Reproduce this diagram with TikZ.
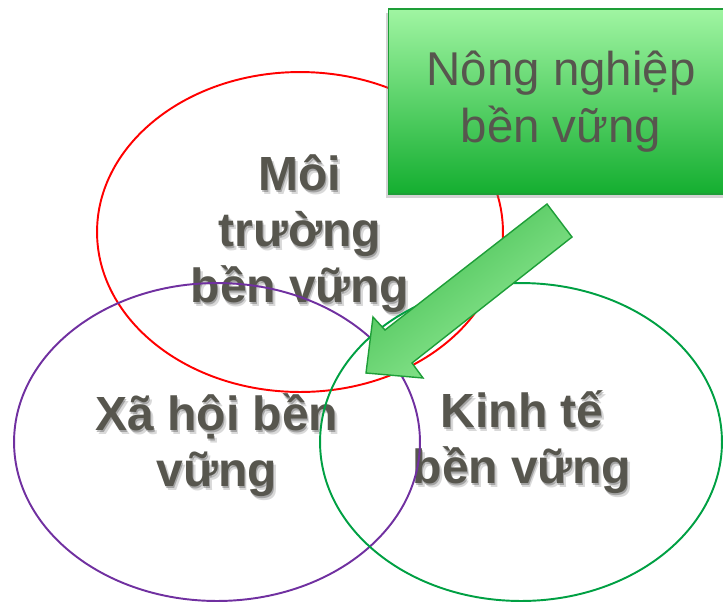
\documentclass[tikz,border=0pt]{standalone}
\usepackage{fontspec}
\setmainfont{Liberation Sans}
\usetikzlibrary{shadows}

\definecolor{textgray}{HTML}{57564E}
\definecolor{boxtop}{HTML}{A0F5A2}
\definecolor{boxbottom}{HTML}{14AE30}
\definecolor{boxline}{HTML}{1E9E38}
\definecolor{arrowdark}{HTML}{3FBC4E}
\definecolor{arrowlight}{HTML}{9AEE9C}
\definecolor{ringred}{HTML}{FF0000}
\definecolor{ringpurple}{HTML}{7030A0}
\definecolor{ringgreen}{HTML}{00A043}

% chu co bong mo: ten, toa do, noi dung
\newcommand{\shadowtext}[3]{%
  \node[ringtext, text=black, opacity=0.15] (#1-sh2) at ([shift={(2.5,4)}]#2) {#3};
  \node[ringtext, text=black, opacity=0.25] (#1-sh1) at ([shift={(1,2)}]#2) {#3};
  \node[ringtext] (#1) at (#2) {#3};}

\begin{document}
\begin{tikzpicture}[
    x=0.02cm, y=-0.02cm,
    ringtext/.style={align=center, text=textgray, font=\fontsize{27.3}{31.9}\selectfont\bfseries},
    ring/.style={line width=1.1pt},
    agribox/.style={draw=boxline, line width=1pt, top color=boxtop, bottom color=boxbottom,
        minimum width=6.9cm, minimum height=3.7cm, align=center, text=textgray,
        font=\fontsize{27}{32.4}\selectfont,
        drop shadow={shadow xshift=-1.5pt, shadow yshift=-2pt, opacity=0.35}},
    bigarrow/.style={draw=boxline, line width=0.8pt, line join=miter,
        top color=arrowdark, bottom color=arrowlight, shading angle=37}
]
    \clip (0,0) rectangle (723,603);

    % Vi tri cac nhan
    \coordinate (envpos) at (300,234);
    \coordinate (socpos) at (217,445);
    \coordinate (ecopos) at (522,442);

    % Nhan
    \shadowtext{env}{envpos}{Môi\\trường\\bền vững}
    \shadowtext{soc}{socpos}{Xã hội bền\\vững}
    \shadowtext{eco}{ecopos}{Kinh tế\\bền vững}

    % Ba vong
    \draw[ring, ringred] (300,232) ellipse [x radius=4.06cm, y radius=3.2cm];
    \draw[ring, ringpurple] (217,442) ellipse [x radius=4.06cm, y radius=3.18cm];
    \draw[ring, ringgreen] (521,442) ellipse [x radius=4.02cm, y radius=3.18cm];

    % Hop
    \node[agribox] (agri) at (561,101.5) {Nông nghiệp\\bền vững};

    % Mui ten lon
    \path[bigarrow] (547,204) -- (385,330) -- (373,317) -- (366,373)
        -- (423,378) -- (412,363) -- (572,237) -- cycle;

\end{tikzpicture}
\end{document}
